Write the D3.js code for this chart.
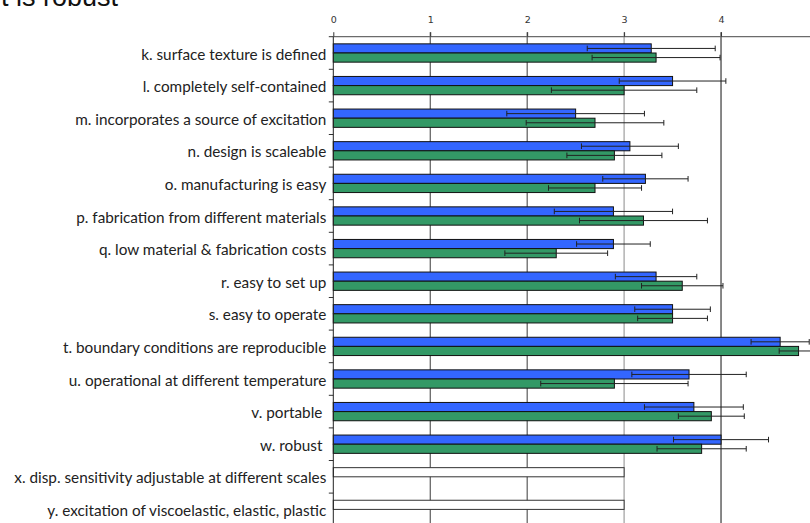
<!DOCTYPE html>
<html>
<head>
<meta charset="utf-8">
<script src="https://cdn.jsdelivr.net/npm/d3@7"></script>
<style>
  html, body { margin: 0; padding: 0; background: #fff; }
  svg { display: block; }
  .cat { font-family: Lato, "Open Sans", sans-serif; font-size: 15.3px; fill: #222; white-space: pre; }
  .tick-label { font-family: "DejaVu Sans", sans-serif; font-size: 9.5px; fill: #333; }
</style>
</head>
<body>
<svg id="chart" width="810" height="523"></svg>
<script>
// Survey criteria (category labels, left axis)
const categories = [
  "k. surface texture is defined",
  "l. completely self-contained",
  "m. incorporates a source of excitation",
  "n. design is scaleable",
  "o. manufacturing is easy",
  "p. fabrication from different materials",
  "q. low material & fabrication costs",
  "r. easy to set up",
  "s. easy to operate",
  "t. boundary conditions are reproducible",
  "u. operational at different temperature",
  "v. portable ",
  "w. robust ",
  "x. disp. sensitivity adjustable at different scales",
  "y. excitation of viscoelastic, elastic, plastic"
];

// Mean ratings and standard deviations, first group (blue)
const blueMean = [3.28, 3.50, 2.50, 3.06, 3.22, 2.89, 2.89, 3.33, 3.50, 4.61, 3.67, 3.72, 4.00, null, null];
const blueSd   = [0.66, 0.55, 0.71, 0.50, 0.44, 0.61, 0.38, 0.42, 0.39, 0.30, 0.59, 0.51, 0.49, null, null];

// Mean ratings and standard deviations, second group (green)
const greenMean = [3.33, 3.00, 2.70, 2.90, 2.70, 3.20, 2.30, 3.60, 3.50, 4.80, 2.90, 3.90, 3.80, null, null];
const greenSd   = [0.66, 0.75, 0.71, 0.49, 0.48, 0.66, 0.53, 0.42, 0.36, 0.20, 0.76, 0.34, 0.46, null, null];

// Criteria not yet rated: neutral placeholder value
const unrated = [null, null, null, null, null, null, null, null, null, null, null, null, null, 3, 3];

// Axis tick values (scale runs to 5, which lies past the right edge)
const xTicks = [0, 1, 2, 3, 4];

const svg = d3.select("#chart");

const plotLeft = 333.3, plotTop = 36.7, band = 32.6;
const x = d3.scaleLinear().domain([0, 5]).range([plotLeft, plotLeft + 5 * 96.93]);
const y = d3.scaleBand().domain(categories)
  .range([plotTop, plotTop + band * categories.length])
  .paddingInner(0).paddingOuter(0);
const inner = d3.scaleBand().domain(["blue", "green"])
  .range([7.15, band - 7.15]).padding(0);

const plotBottom = plotTop + band * categories.length;

// Heading, mostly above the top edge
svg.append("text")
  .attr("x", 118).attr("y", 6)
  .attr("text-anchor", "end")
  .style("font-family", "'Liberation Sans', Arial, sans-serif")
  .style("font-size", "27px")
  .style("fill", "#111")
  .text("t is robust");

// Vertical gridlines
const gridColor = { 1: "#3a3a3a", 2: "#3a3a3a", 3: "#8a8a8a", 4: "#111" };
svg.append("g").selectAll("line")
  .data(xTicks.filter(d => d > 0))
  .join("line")
  .attr("x1", d => x(d)).attr("x2", d => x(d))
  .attr("y1", plotTop - 4.5).attr("y2", plotBottom)
  .attr("stroke", d => gridColor[d])
  .attr("stroke-width", 1);

// Top value axis
const xAxis = svg.append("g")
  .attr("transform", `translate(0,${plotTop})`)
  .call(d3.axisTop(x).tickValues(xTicks).tickSize(4.5).tickPadding(9).tickFormat(d3.format("d")));
xAxis.select(".domain").attr("stroke", "#6b6b6b").attr("stroke-width", 1.2).attr("d", `M${plotLeft},0H${x(5)}`);
xAxis.selectAll(".tick line").attr("stroke", "#333");
xAxis.selectAll(".tick text").attr("class", "tick-label").attr("fill", null);

const rows = categories.map((c, i) => ({
  cat: c,
  blue: blueMean[i], blueSd: blueSd[i],
  green: greenMean[i], greenSd: greenSd[i],
  unrated: unrated[i]
}));

// Bars
const bars = [];
rows.forEach(r => {
  if (r.blue != null) bars.push({ cat: r.cat, key: "blue", v: r.blue, sd: r.blueSd, fill: "#3366ff" });
  if (r.green != null) bars.push({ cat: r.cat, key: "green", v: r.green, sd: r.greenSd, fill: "#339966" });
  if (r.unrated != null) bars.push({ cat: r.cat, key: "blue", v: r.unrated, sd: null, fill: "#ffffff" });
});

svg.append("g").selectAll("rect")
  .data(bars)
  .join("rect")
  .attr("x", x(0))
  .attr("y", d => y(d.cat) + inner(d.key))
  .attr("width", d => x(d.v) - x(0))
  .attr("height", inner.bandwidth())
  .attr("fill", d => d.fill)
  .attr("stroke", d => d.fill === "#ffffff" ? "#333" : "#111")
  .attr("stroke-width", 1);

// Error bars (mean ± sd)
const err = svg.append("g").attr("stroke", "#222").attr("stroke-width", 1);
bars.filter(d => d.sd != null).forEach(d => {
  const cy = y(d.cat) + inner(d.key) + inner.bandwidth() / 2;
  const x1 = x(d.v - d.sd), x2 = x(d.v + d.sd);
  err.append("line").attr("x1", x1).attr("x2", x2).attr("y1", cy).attr("y2", cy);
  err.append("line").attr("x1", x1).attr("x2", x1).attr("y1", cy - 2.8).attr("y2", cy + 2.8);
  err.append("line").attr("x1", x2).attr("x2", x2).attr("y1", cy - 2.8).attr("y2", cy + 2.8);
});

// Category axis on the left
const boundaries = d3.range(categories.length + 1).map(i => plotTop + i * band);
svg.append("g").selectAll("line")
  .data(boundaries)
  .join("line")
  .attr("x1", plotLeft - 4.5).attr("x2", plotLeft)
  .attr("y1", d => d).attr("y2", d => d)
  .attr("stroke", "#333");
svg.append("line")
  .attr("x1", plotLeft).attr("x2", plotLeft)
  .attr("y1", plotTop).attr("y2", plotBottom)
  .attr("stroke", "#222");

svg.append("g").selectAll("text")
  .data(categories)
  .join("text")
  .attr("class", "cat")
  .attr("x", plotLeft - 7)
  .attr("y", d => y(d) + band / 2 + 6.5)
  .attr("text-anchor", "end")
  .text(d => d);
</script>
</body>
</html>
